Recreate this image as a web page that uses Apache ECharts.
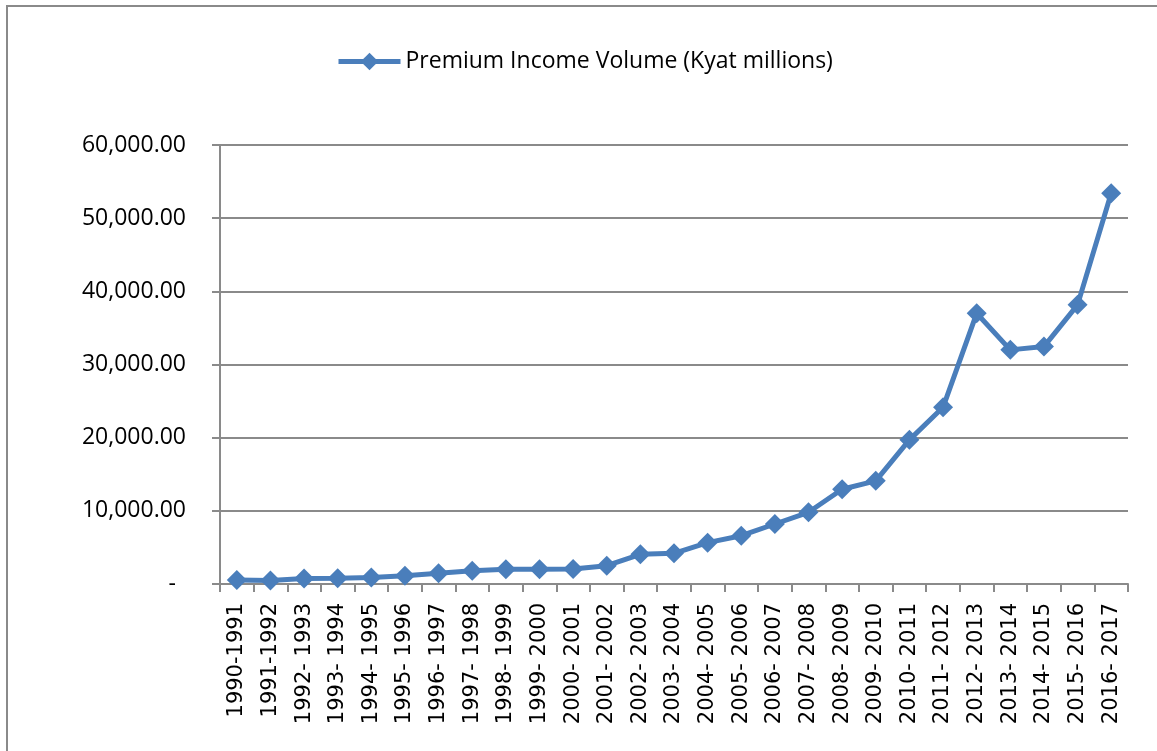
<!DOCTYPE html>
<html>
<head>
<meta charset="utf-8">
<title>Premium Income Volume</title>
<script src="https://cdn.jsdelivr.net/npm/echarts@6/dist/echarts.min.js"></script>
<style>
  html, body { margin: 0; padding: 0; background: #ffffff; }
  #chart { width: 1157px; height: 751px; }
</style>
</head>
<body>
<div id="chart"></div>
<script>
// Fiscal years shown on the category axis
const fiscalYears = [
  '1990-1991', '1991-1992', '1992- 1993', '1993- 1994', '1994- 1995',
  '1995- 1996', '1996- 1997', '1997- 1998', '1998- 1999', '1999- 2000',
  '2000- 2001', '2001- 2002', '2002- 2003', '2003- 2004', '2004- 2005',
  '2005- 2006', '2006- 2007', '2007- 2008', '2008- 2009', '2009- 2010',
  '2010- 2011', '2011- 2012', '2012- 2013', '2013- 2014', '2014- 2015',
  '2015- 2016', '2016- 2017'
];

// Premium income volume, Kyat millions
const premiumIncome = [
  550, 480, 750, 800, 900,
  1130, 1460, 1820, 2000, 2000,
  2050, 2500, 4050, 4200, 5650,
  6600, 8200, 9800, 12950, 14100,
  19700, 24150, 37000, 32000, 32450,
  38150, 53400
];

const seriesName = 'Premium Income Volume (Kyat millions)';

// Value axis range and ticks
const yMin = 0;
const yMax = 60000;
const yStep = 10000;

function formatAmount(v) {
  if (v === 0) return '{dash|-}';
  return v.toLocaleString('en-US', { minimumFractionDigits: 2, maximumFractionDigits: 2 });
}

const chart = echarts.init(document.getElementById('chart'), null, { renderer: 'canvas' });
const gray = '#8a8a8a';
const blue = '#4a7ebb';

chart.setOption({
  animation: false,
  backgroundColor: '#ffffff',
  graphic: [{
    type: 'rect',
    shape: { x: 7, y: 6, width: 1300, height: 900 },
    style: { fill: 'none', stroke: gray, lineWidth: 2 },
    silent: true
  }],
  legend: {
    left: 331,
    top: 45,
    itemWidth: 62,
    itemHeight: 22,
    itemGap: 0,
    lineStyle: { width: 5 },
    textStyle: { fontFamily: 'Open Sans', fontSize: 23, color: '#000000' },
    data: [seriesName]
  },
  grid: { left: 220, right: 29, top: 145, bottom: 167, containLabel: false },
  xAxis: {
    type: 'category',
    data: fiscalYears,
    boundaryGap: true,
    axisLine: { show: true, lineStyle: { color: gray, width: 2 } },
    axisTick: { show: true, interval: 0, length: 8, lineStyle: { color: gray, width: 2 } },
    axisLabel: {
      interval: 0,
      rotate: 90,
      margin: 19,
      fontFamily: 'DejaVu Sans',
      fontSize: 21,
      color: '#000000'
    },
    splitLine: { show: false }
  },
  yAxis: {
    type: 'value',
    min: yMin,
    max: yMax,
    interval: yStep,
    axisLine: { show: true, lineStyle: { color: gray, width: 2 } },
    axisTick: { show: true, length: 8, lineStyle: { color: gray, width: 2 } },
    axisLabel: {
      margin: 34,
      fontFamily: 'Open Sans',
      fontSize: 23,
      color: '#000000',
      formatter: formatAmount,
      rich: {
        dash: { fontFamily: 'Open Sans', fontSize: 23, color: '#000000', padding: [0, 10, 0, 0] }
      }
    },
    splitLine: { show: true, lineStyle: { color: gray, width: 2 } }
  },
  series: [{
    name: seriesName,
    type: 'line',
    data: premiumIncome,
    symbol: 'diamond',
    symbolSize: 20,
    showAllSymbol: true,
    lineStyle: { color: blue, width: 5 },
    itemStyle: { color: blue },
    z: 3
  }]
});
</script>
</body>
</html>
